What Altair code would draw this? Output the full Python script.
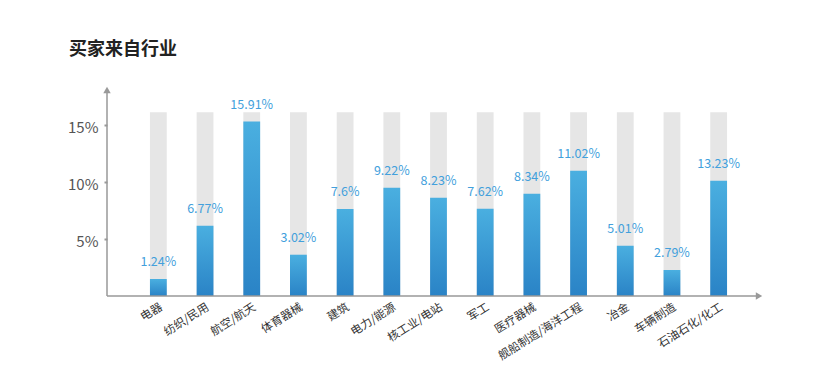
import altair as alt
import pandas as pd

categories = ["电器", "纺织/民用", "航空/航天", "体育器械", "建筑", "电力/能源", "核工业/电站",
              "军工", "医疗器械", "舰船制造/海洋工程", "冶金", "车辆制造", "石油石化/化工"]
bar_values = [1.49, 6.17, 15.29, 3.62, 7.63, 9.50, 8.62, 7.66, 8.97, 10.99, 4.41, 2.28, 10.11]
labels = ["1.24%", "6.77%", "15.91%", "3.02%", "7.6%", "9.22%", "8.23%",
          "7.62%", "8.34%", "11.02%", "5.01%", "2.79%", "13.23%"]
background_value = 16.1
y_ticks = [5, 10, 15]

FONT = "Noto Sans CJK SC"
W, H = 663, 211

df = pd.DataFrame({"cat": categories, "value": bar_values, "label": labels,
                   "bg": [background_value] * len(categories)})

yscale = alt.Scale(domain=[0, 18.5], nice=False, zero=True)
yaxis = alt.Axis(values=y_ticks, labelExpr="datum.value + '%'", title=None, domain=False,
                 grid=False, tickSize=3, tickColor="#999", tickWidth=2, labelOffset=3,
                 labelFontSize=15, labelColor="#555", labelPadding=6, labelFont=FONT)
xenc = alt.X("cat:N", sort=categories,
             scale=alt.Scale(paddingInner=0.64, paddingOuter=0.92),
             axis=alt.Axis(title=None, labelAngle=-32, domain=False, ticks=False,
                           labelFont=FONT, labelFontSize=11.5, labelColor="#333",
                           labelPadding=5, labelAlign="right", labelBaseline="top"))

base = alt.Chart(df)

bg = base.mark_bar(color="#e6e6e6").encode(
    x=xenc, y=alt.Y("bg:Q", scale=yscale, axis=yaxis))

grad = alt.Gradient(gradient="linear",
                    stops=[alt.GradientStop(color="#4aafe0", offset=0),
                           alt.GradientStop(color="#2a83c6", offset=1)],
                    x1=1, x2=1, y1=0, y2=1)
bars = base.mark_bar(color=grad).encode(
    x=xenc, y=alt.Y("value:Q", scale=yscale, axis=yaxis))

text = base.mark_text(dy=-17, color="#42a0dc", fontSize=12.5, font=FONT,
                      baseline="middle").encode(
    x=xenc, y=alt.Y("value:Q", scale=yscale, axis=yaxis), text="label:N")

one = alt.Chart(pd.DataFrame({"a": [0]}))
yline = one.mark_rule(color="#999", strokeWidth=1.5).encode(
    x=alt.value(0), y=alt.value(6), y2=alt.value(H))
xline = one.mark_rule(color="#999", strokeWidth=1.5).encode(
    x=alt.value(0), x2=alt.value(650), y=alt.value(H))
yarrow = one.mark_point(shape="triangle-up", filled=True, color="#999", size=55, opacity=1).encode(
    x=alt.value(0), y=alt.value(5))
xarrow = one.mark_point(shape="triangle-right", filled=True, color="#999", size=55, opacity=1).encode(
    x=alt.value(652), y=alt.value(H))

chart = alt.layer(bg, bars, text, yline, xline, yarrow, xarrow).properties(
    width=W, height=H,
    autosize="none",
    background="white",
    padding={"left": 99, "top": 77, "right": 50, "bottom": 70},
    title=alt.TitleParams("买家来自行业", anchor="start", frame="group", dx=-38,
                          fontSize=18, fontWeight="bold", font=FONT, color="#222", offset=26),
).configure_view(strokeWidth=0, stroke=None)

chart.save("out.html", embed_options={"renderer": "svg", "actions": False})
